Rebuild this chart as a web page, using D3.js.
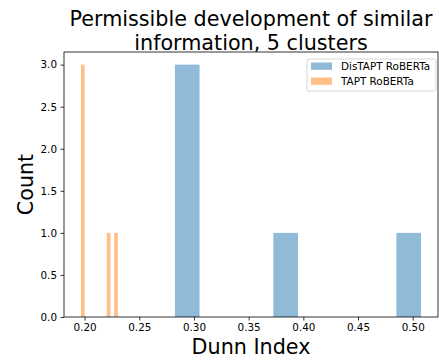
<!DOCTYPE html>
<html>
<head>
<meta charset="utf-8">
<script src="https://cdn.jsdelivr.net/npm/d3@7"></script>
<style>
  body { margin: 0; background: #fff; }
  svg { display: block; font-family: 'DejaVu Sans', sans-serif; }
</style>
</head>
<body>
<svg id="chart" width="439" height="361"></svg>
<script>
// histogram bins (left edge), counts and bin width per series
const distaptBinStart = [0.2826, 0.3726, 0.4851];
const distaptCounts = [3, 1, 1];
const distaptBinWidth = 0.0225;

const taptBinStart = [0.1967, 0.2203, 0.2270];
const taptCounts = [3, 1, 1];
const taptBinWidth = 0.00337;

const seriesNames = ['DisTAPT RoBERTa', 'TAPT RoBERTa'];
const xTicks = [0.20, 0.25, 0.30, 0.35, 0.40, 0.45, 0.50];
const yTicks = [0, 0.5, 1, 1.5, 2, 2.5, 3];

const titleLines = ['Permissible development of similar', 'information, 5 clusters'];

const margin = {top: 52, right: 1, bottom: 44, left: 64};
const width = 439, height = 361;

const svg = d3.select('#chart');

const colors = ['#8fbbd9', '#ffbf86'];

const series = [
  {name: seriesNames[0], color: colors[0], data: distaptBinStart.map((s, i) => ({x0: s, x1: s + distaptBinWidth, n: distaptCounts[i]}))},
  {name: seriesNames[1], color: colors[1], data: taptBinStart.map((s, i) => ({x0: s, x1: s + taptBinWidth, n: taptCounts[i]}))}
];

// matplotlib-like 5% margins
const allX = series.flatMap(s => s.data.flatMap(d => [d.x0, d.x1]));
const xMin = d3.min(allX), xMax = d3.max(allX);
const pad = (xMax - xMin) * 0.05;
const yMax = d3.max(series.flatMap(s => s.data.map(d => d.n)));

const x = d3.scaleLinear()
  .domain([xMin - pad, xMax + pad])
  .range([margin.left, width - margin.right]);

const y = d3.scaleLinear()
  .domain([0, yMax * 1.05])
  .range([height - margin.bottom, margin.top]);

series.forEach(s => {
  svg.append('g')
    .attr('fill', s.color)
    .selectAll('rect')
    .data(s.data)
    .join('rect')
    .attr('x', d => x(d.x0))
    .attr('y', d => y(d.n))
    .attr('width', d => x(d.x1) - x(d.x0))
    .attr('height', d => y(0) - y(d.n));
});

const xAxis = svg.append('g')
  .attr('transform', `translate(0,${height - margin.bottom})`)
  .call(d3.axisBottom(x).tickValues(xTicks).tickFormat(d3.format('.2f')).tickSize(3.5).tickPadding(3.5).tickSizeOuter(0));

const yAxis = svg.append('g')
  .attr('transform', `translate(${margin.left},0)`)
  .call(d3.axisLeft(y).tickValues(yTicks).tickFormat(d3.format('.1f')).tickSize(3.5).tickPadding(3.5).tickSizeOuter(0));

[xAxis, yAxis].forEach(g => {
  g.selectAll('text').style('font-size', '10.4px').attr('fill', '#000')
    .style('font-family', "'DejaVu Sans', sans-serif");
  g.selectAll('line').attr('stroke', '#000').attr('stroke-width', 0.8);
  g.select('.domain').remove();
});

// frame
svg.append('rect')
  .attr('x', margin.left)
  .attr('y', margin.top)
  .attr('width', width - margin.right - margin.left)
  .attr('height', height - margin.bottom - margin.top)
  .attr('fill', 'none')
  .attr('stroke', '#000')
  .attr('stroke-width', 0.8);

// title
const cx = (margin.left + width - margin.right) / 2;
svg.append('g')
  .selectAll('text')
  .data(titleLines)
  .join('text')
  .attr('x', cx)
  .attr('y', (d, i) => 26 + i * 24)
  .attr('text-anchor', 'middle')
  .style('font-size', '20.7px')
  .text(d => d);

svg.append('text')
  .attr('x', cx)
  .attr('y', 354)
  .attr('text-anchor', 'middle')
  .style('font-size', '20.7px')
  .text('Dunn Index');

svg.append('text')
  .attr('transform', `translate(33,${(margin.top + height - margin.bottom) / 2}) rotate(-90)`)
  .attr('text-anchor', 'middle')
  .style('font-size', '20.7px')
  .text('Count');

// legend
const legend = svg.append('g').attr('transform', 'translate(307,59)');
legend.append('rect')
  .attr('width', 129).attr('height', 32).attr('rx', 2)
  .attr('fill', '#fff').attr('fill-opacity', 0.8)
  .attr('stroke', '#ccc').attr('stroke-width', 0.8);
const items = legend.selectAll('g.item')
  .data(series)
  .join('g')
  .attr('class', 'item')
  .attr('transform', (d, i) => `translate(4,${3.5 + i * 15})`);
items.append('rect')
  .attr('width', 21).attr('height', 7.3)
  .attr('fill', d => d.color);
items.append('text')
  .attr('x', 30).attr('y', 7.5)
  .style('font-size', '10.4px')
  .text(d => d.name);
</script>
</body>
</html>
